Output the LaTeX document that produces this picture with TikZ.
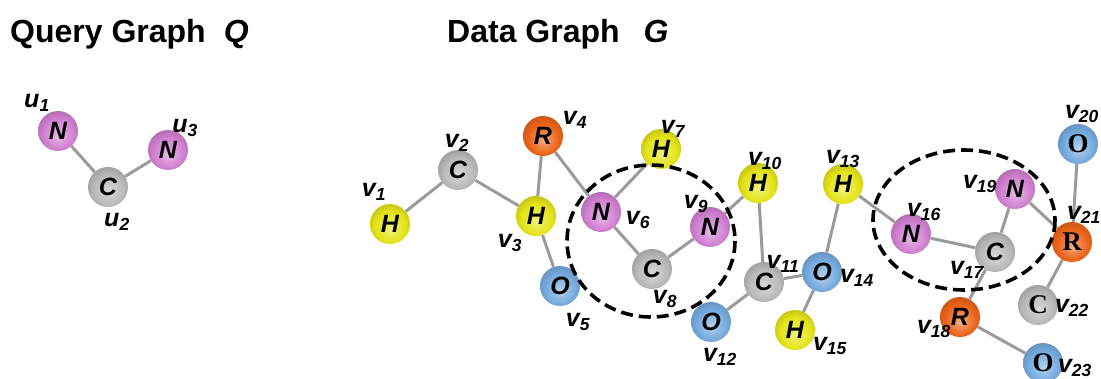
\documentclass[tikz,border=0pt]{standalone}
\usepackage{fontspec}
\setmainfont{Liberation Sans}
\newfontfamily\timesfont{Liberation Serif}
\usepackage{tikz}
\usetikzlibrary{backgrounds}
\definecolor{atomN}{RGB}{208,128,208}
\definecolor{atomC}{RGB}{185,185,185}
\definecolor{atomH}{RGB}{228,228,25}
\definecolor{atomR}{RGB}{236,100,25}
\definecolor{atomO}{RGB}{118,170,222}
\definecolor{bondgray}{RGB}{155,155,155}
\colorlet{atomcol}{atomC}
\pgfdeclareradialshading[atomcol]{glass}{\pgfpoint{1bp}{-6bp}}{%
    color(0bp)=(atomcol!50!white);
    color(9bp)=(atomcol!78!white);
    color(19bp)=(atomcol);
    color(29bp)=(atomcol!85!black);
    color(50bp)=(atomcol!70!black)}
\newcommand{\titlefont}{\fontsize{32}{32}\selectfont\bfseries}
\newcommand{\atomfont}{\fontsize{25}{25}\selectfont\bfseries\itshape}
\newcommand{\lblfont}{\fontsize{25}{25}\selectfont\bfseries\itshape}
\newcommand{\vx}[2]{#1\textsubscript{#2}}
\tikzset{
    atom/.style={circle, /utils/exec={\colorlet{atomcol}{#1}}, shading=glass, shade,
        minimum size=40pt, inner sep=0pt, font=\atomfont},
    tatom/.style={atom=#1, font={\fontsize{27}{27}\selectfont\timesfont\bfseries}},
    bond/.style={draw=bondgray, line width=3pt},
    lbl/.style={font=\lblfont, inner sep=0pt},
    tag/.style n args={3}{label={[lbl, xshift=#1pt, yshift=#2pt]center:{#3}}},
    match/.style={line width=3.6pt, dash pattern=on 12pt off 6pt},
    title/.style={font=\titlefont, anchor=base west, inner sep=0pt}
}
\begin{document}
\begin{tikzpicture}[x=1pt, y=-1pt]
        \useasboundingbox (0,0) rectangle (1101,378);

        % titles
        \node[title] (qtitle) at (10,42) {Query Graph\hspace{18pt}\textit{Q}};
        \node[title] (gtitle) at (447,42) {Data Graph\hspace{24pt}\textit{G}};

        % query graph
        \node[atom=atomN, tag={-21}{28}{\vx{u}{1}}] (u1) at (58,131) {N};
        \node[atom=atomC, tag={9}{-35}{\vx{u}{2}}] (u2) at (108,187) {C};
        \node[atom=atomN, tag={17}{22}{\vx{u}{3}}] (u3) at (168,150) {N};

        % data graph
        \node[atom=atomH, tag={-16}{32}{\vx{v}{1}}] (v1) at (390,224) {H};
        \node[atom=atomC, tag={-1}{27}{\vx{v}{2}}] (v2) at (458,170) {C};
        \node[atom=atomH, tag={-26}{-27}{\vx{v}{3}}] (v3) at (536,216) {H};
        \node[atom=atomR, tag={32}{16}{\vx{v}{4}}] (v4) at (543,136) {R};
        \node[atom=atomO, tag={18}{-36}{\vx{v}{5}}] (v5) at (560,286) {O};
        \node[atom=atomN, tag={37}{-8}{\vx{v}{6}}] (v6) at (601,212) {N};
        \node[atom=atomH, tag={12}{20}{\vx{v}{7}}] (v7) at (661,149) {H};
        \node[atom=atomC, tag={13}{-30}{\vx{v}{8}}] (v8) at (652,269) {C};
        \node[atom=atomN, tag={-14}{23}{\vx{v}{9}}] (v9) at (710,227) {N};
        \node[atom=atomH, tag={7}{22}{\vx{v}{10}}] (v10) at (758,183) {H};
        \node[atom=atomC, tag={19}{18}{\vx{v}{11}}] (v11) at (764,282) {C};
        \node[atom=atomO, tag={9}{-35}{\vx{v}{12}}] (v12) at (711,322) {O};
        \node[atom=atomH, tag={0}{25}{\vx{v}{13}}] (v13) at (843,184) {H};
        \node[atom=atomO, tag={35}{-6}{\vx{v}{14}}] (v14) at (822,272) {O};
        \node[atom=atomH, tag={35}{-16}{\vx{v}{15}}] (v15) at (795,330) {H};
        \node[atom=atomN, tag={13}{22}{\vx{v}{16}}] (v16) at (911,234) {N};
        \node[atom=atomC, tag={-28}{-18}{\vx{v}{17}}] (v17) at (995,252) {C};
        \node[atom=atomR, tag={-26}{-12}{\vx{v}{18}}] (v18) at (960,317) {R};
        \node[atom=atomN, tag={-35}{5}{\vx{v}{19}}] (v19) at (1015,189) {N};
        \node[tatom=atomO, tag={4}{30}{\vx{v}{20}}] (v20) at (1078,144) {O};
        \node[tatom=atomR, tag={12}{27}{\vx{v}{21}}] (v21) at (1072,242) {R};
        \node[tatom=atomC, tag={34}{-3}{\vx{v}{22}}] (v22) at (1038,305) {C};
        \node[tatom=atomO, tag={32}{-5}{\vx{v}{23}}] (v23) at (1043,363) {O};

        \begin{scope}[on background layer]
        \draw[bond]
          (u1) -- (u2)
          (u2) -- (u3);

        \draw[bond]
          (v1) -- (v2)
          (v2) -- (v3)
          (v3) -- (v4)
          (v3) -- (v5)
          (v4) -- (v6)
          (v6) -- (v7)
          (v6) -- (v8)
          (v8) -- (v9)
          (v9) -- (v10)
          (v10) -- (v11)
          (v11) -- (v12)
          (v11) -- (v14)
          (v13) -- (v14)
          (v14) -- (v15)
          (v13) -- (v16)
          (v16) -- (v17)
          (v17) -- (v19)
          (v17) -- (v18)
          (v18) -- (v23)
          (v19) -- (v21)
          (v20) -- (v21)
          (v21) -- (v22);
        \end{scope}

        % matches of Q
        \draw[match] (651,241) ellipse [x radius=84, y radius=76];
        \draw[match] (964,220) ellipse [x radius=91, y radius=70];
    \end{tikzpicture}
\end{document}
